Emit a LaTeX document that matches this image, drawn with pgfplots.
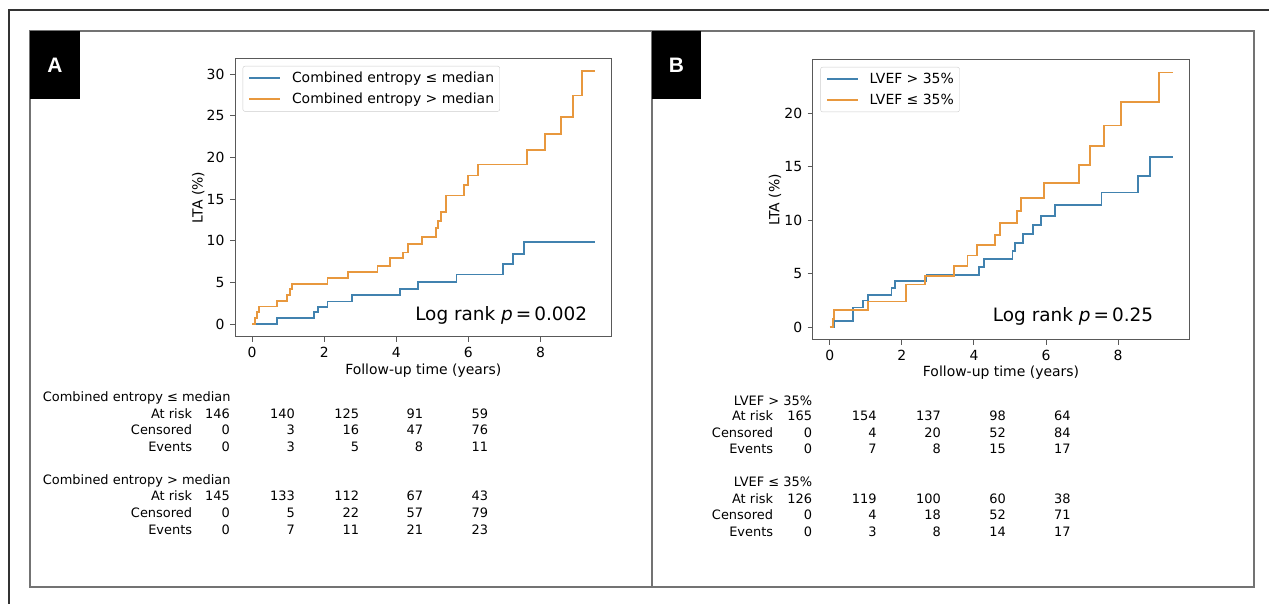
\documentclass[border=0pt]{standalone}
\usepackage{pgfplots}
\pgfplotsset{compat=1.18}
\usepackage{fontspec}
\setmainfont{DejaVu Sans}
\newfontfamily\arialfont{Liberation Sans}
\definecolor{kmblue}{RGB}{65,130,175}
\definecolor{kmorange}{RGB}{232,152,62}
\newcommand\fs[1]{\fontsize{#1}{#1}\selectfont}

\pgfplotsset{
  kmaxis/.style={
    anchor=south west, scale only axis,
    xmin=-0.475, xmax=9.975,
    xtick={0,2,4,6,8},
    tick align=outside, xtick pos=bottom, ytick pos=left,
    major tick length=5bp,
    axis line style={black!65, line width=1bp},
    tick style={black!65, line width=1bp},
    tick label style={font=\fs{14}},
    /pgf/number format/assume math mode=true,
    xticklabel style={yshift=-2bp},
    yticklabel style={xshift=-2bp},
    label style={font=\fs{14}},
    xlabel={Follow-up time (years)},
    ylabel={LTA (\%)},
    legend cell align=left,
    legend image code/.code={\draw[#1] (0bp,0bp) -- (31bp,0bp);},
    legend style={at={(0,1)}, anchor=north west, xshift=7.7bp, yshift=-7.7bp,
      draw=black!20, rounded corners=2bp, fill=white, font=\fs{14},
      inner xsep=5.6bp, inner ysep=6bp, row sep=9bp,
      nodes={inner sep=0pt},
      /tikz/every odd column/.style={column sep=10.7bp}},
    every axis plot/.append style={line width=1.8bp, const plot},
  }
}

\begin{document}
\begin{tikzpicture}[x=1bp,y=1bp]
\useasboundingbox (0,0) rectangle (1269,604);
\draw[line width=1.5bp, black!80] (9,0) -- (9,594) -- (1269,594);
\draw[line width=1.2bp, black!55] (30,17) rectangle (1254,573);
\draw[line width=1.2bp, black!55] (652,17) -- (652,573);
\fill[black] (30,505) rectangle (80,573);
\node[white] at (55,539) {\arialfont\bfseries\fs{21}A};
\fill[black] (652,505) rectangle (701,573);
\node[white] at (676.5,539) {\arialfont\bfseries\fs{21}B};

% Panel A
\begin{axis}[kmaxis, at={(235bp,267.3bp)}, width=376.7bp, height=278.4bp,
  ymin=-1.52, ymax=31.92, ytick={0,5,10,15,20,25,30},
  xlabel style={at={(axis description cs:0.5,-0.1236)}, anchor=center},
  ylabel style={at={(axis description cs:-0.0974,0.5)}, anchor=center}]
\addplot[kmblue] coordinates {
(0,0) (0.68,0.68) (1.72,1.4) (1.83,2.05) (2.09,2.7) (2.76,3.45) (4.11,4.2)
(4.6,5.05) (5.67,5.95) (6.96,7.2) (7.24,8.45) (7.54,9.85) (9.52,9.85)};
\addlegendentry{Combined entropy ≤ median}
\addplot[kmorange] coordinates {
(0,0) (0.08,0.7) (0.14,1.4) (0.2,2.1) (0.68,2.8) (0.96,3.5) (1.04,4.2)
(1.1,4.85) (2.09,5.55) (2.67,6.25) (3.48,6.95) (3.83,7.9) (4.18,8.6)
(4.32,9.6) (4.71,10.45) (5.1,11.5) (5.15,12.4) (5.23,13.5) (5.38,15.45)
(5.88,16.7) (5.99,17.85) (6.27,19.15) (7.63,20.9) (8.12,22.8) (8.57,24.9)
(8.91,27.45) (9.15,30.4) (9.52,30.4)};
\addlegendentry{Combined entropy > median}
\end{axis}
\node[anchor=east] at (590.7,289) {\fs{18.5}Log rank \textit{p}\,=\,0.002};

% Panel B
\begin{axis}[kmaxis, at={(812.7bp,264bp)}, width=376.6bp, height=280.7bp,
  ymin=-1.19, ymax=25.04, ytick={0,5,10,15,20},
  xlabel style={at={(axis description cs:0.5,-0.1169)}, anchor=center},
  ylabel style={at={(axis description cs:-0.1001,0.5)}, anchor=center}]
\addplot[kmblue] coordinates {
(0,0) (0.12,0.62) (0.65,1.85) (0.91,2.5) (1.06,3.05) (1.71,3.7) (1.8,4.3)
(2.68,4.9) (4.14,5.65) (4.27,6.35) (5.07,7.1) (5.14,7.9) (5.37,8.7)
(5.64,9.55) (5.85,10.4) (6.24,11.4) (7.54,12.6) (8.54,14.1) (8.88,15.9)
(9.53,15.9)};
\addlegendentry{LVEF > 35\%}
\addplot[kmorange] coordinates {
(0,0) (0.09,0.8) (0.12,1.6) (1.06,2.4) (2.11,3.2) (2.12,4.0) (2.65,4.8)
(3.45,5.7) (3.82,6.7) (4.09,7.65) (4.58,8.6) (4.72,9.75) (5.2,10.85)
(5.3,12.1) (5.95,13.45) (6.92,15.15) (7.22,16.9) (7.61,18.85) (8.07,21.05)
(9.14,23.8) (9.53,23.8)};
\addlegendentry{LVEF ≤ 35\%}
\end{axis}
\node[anchor=east] at (1156.7,288) {\fs{18.5}Log rank \textit{p}\,=\,0.25};

% Table A
\begin{scope}[every node/.style={font=\fs{13}, inner sep=0pt}]
\node[anchor=base west] at (42.7,{604-401.7}) {Combined entropy ≤ median};
\node[anchor=base west] at (42.7,{604-484.3}) {Combined entropy > median};
\foreach \y/\lab/\a/\b/\c/\d/\e in {
  413.3/At risk/146/140/125/91/59, 430/Censored/0/3/16/47/76, 446.7/Events/0/3/5/8/11,
  496/At risk/145/133/112/67/43, 512.7/Censored/0/5/22/57/79, 529.3/Events/0/7/11/21/23}{
  \node[anchor=base east] at (192.3,{604-\y-5}) {\lab};
  \node[anchor=base east] at (230,{604-\y-5}) {\a};
  \node[anchor=base east] at (295,{604-\y-5}) {\b};
  \node[anchor=base east] at (359.3,{604-\y-5}) {\c};
  \node[anchor=base east] at (423.3,{604-\y-5}) {\d};
  \node[anchor=base east] at (488.3,{604-\y-5}) {\e};
}
% Table B
\node[anchor=base east] at (812.3,{604-405.7}) {LVEF > 35\%};
\node[anchor=base east] at (812.3,{604-486.7}) {LVEF ≤ 35\%};
\foreach \y/\lab/\a/\b/\c/\d/\e in {
  415.7/At risk/165/154/137/98/64, 432.3/Censored/0/4/20/52/84, 449/Events/0/7/8/15/17,
  498.3/At risk/126/119/100/60/38, 515/Censored/0/4/18/52/71, 531.7/Events/0/3/8/14/17}{
  \node[anchor=base east] at (773.3,{604-\y-5}) {\lab};
  \node[anchor=base east] at (812.3,{604-\y-5}) {\a};
  \node[anchor=base east] at (876.7,{604-\y-5}) {\b};
  \node[anchor=base east] at (941,{604-\y-5}) {\c};
  \node[anchor=base east] at (1006,{604-\y-5}) {\d};
  \node[anchor=base east] at (1070.7,{604-\y-5}) {\e};
}
\end{scope}
\end{tikzpicture}
\end{document}
